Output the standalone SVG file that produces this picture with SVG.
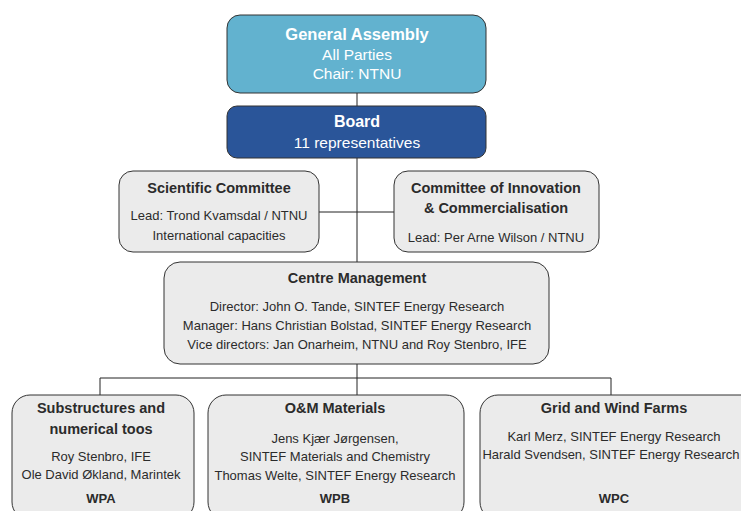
<svg xmlns="http://www.w3.org/2000/svg" width="741" height="511" viewBox="0 0 741 511">
<style>
text{font-family:"Liberation Sans","DejaVu Sans",sans-serif;text-anchor:middle;fill:#2b2b2b;font-size:13px}
.b{font-weight:bold;font-size:14.5px}
.w{fill:#ffffff;font-size:15.5px}
.box{fill:#ebebeb;stroke:#333;stroke-width:1}
.con{stroke:#222;stroke-width:1;fill:none}
</style>
<rect width="741" height="511" fill="#ffffff"/>
<g id="connectors">
<path class="con" d="M357,93V395"/>
<path class="con" d="M319,212H394"/>
<path class="con" d="M100,395V378H611V395"/>
</g>
<g id="general-assembly">
<rect x="227" y="15" width="259" height="78" rx="13" fill="#62b2cf" stroke="#333" stroke-width="1"/>
<text x="357" y="40" class="b w" style="font-size:16.5px">General Assembly</text>
<text x="357" y="60" class="w">All Parties</text>
<text x="357" y="79" class="w">Chair: NTNU</text>
</g>
<g id="board">
<rect x="227" y="106" width="259" height="52" rx="10" fill="#2a5599" stroke="#333" stroke-width="1"/>
<text x="357" y="127" class="b w" style="font-size:16px">Board</text>
<text x="357" y="148" class="w">11 representatives</text>
</g>
<g id="scientific-committee">
<rect x="119" y="171" width="200" height="81" rx="14" class="box"/>
<text x="219" y="193" class="b">Scientific Committee</text>
<text x="219" y="220">Lead: Trond Kvamsdal / NTNU</text>
<text x="219" y="240">International capacities</text>
</g>
<g id="innovation-committee">
<rect x="394" y="171" width="205" height="81" rx="14" class="box"/>
<text x="496" y="193" class="b">Committee of Innovation</text>
<text x="496" y="213" class="b">&amp; Commercialisation</text>
<text x="496" y="242">Lead: Per Arne Wilson / NTNU</text>
</g>
<g id="centre-management">
<rect x="164" y="262" width="385" height="102" rx="16" class="box"/>
<text x="357" y="283" class="b">Centre Management</text>
<text x="357" y="311">Director: John O. Tande, SINTEF Energy Research</text>
<text x="357" y="330">Manager: Hans Christian Bolstad, SINTEF Energy Research</text>
<text x="357" y="349">Vice directors: Jan Onarheim, NTNU and Roy Stenbro, IFE</text>
</g>
<g id="wpa">
<rect x="12" y="395" width="182" height="125" rx="18" class="box"/>
<text x="101" y="413" class="b">Substructures and</text>
<text x="101" y="434" class="b">numerical toos</text>
<text x="101" y="461">Roy Stenbro, IFE</text>
<text x="101" y="479">Ole David Økland, Marintek</text>
<text x="101" y="503" class="b" style="font-size:13px">WPA</text>
</g>
<g id="wpb">
<rect x="208" y="395" width="256" height="125" rx="18" class="box"/>
<text x="335" y="413" class="b">O&amp;M Materials</text>
<text x="335" y="443">Jens Kjær Jørgensen,</text>
<text x="335" y="461">SINTEF Materials and Chemistry</text>
<text x="335" y="480">Thomas Welte, SINTEF Energy Research</text>
<text x="335" y="503" class="b" style="font-size:13px">WPB</text>
</g>
<g id="wpc">
<rect x="480" y="395" width="280" height="125" rx="18" class="box"/>
<text x="614" y="413" class="b">Grid and Wind Farms</text>
<text x="614" y="441">Karl Merz, SINTEF Energy Research</text>
<text x="611" y="459">Harald Svendsen, SINTEF Energy Research</text>
<text x="614" y="503" class="b" style="font-size:13px">WPC</text>
</g>
</svg>
